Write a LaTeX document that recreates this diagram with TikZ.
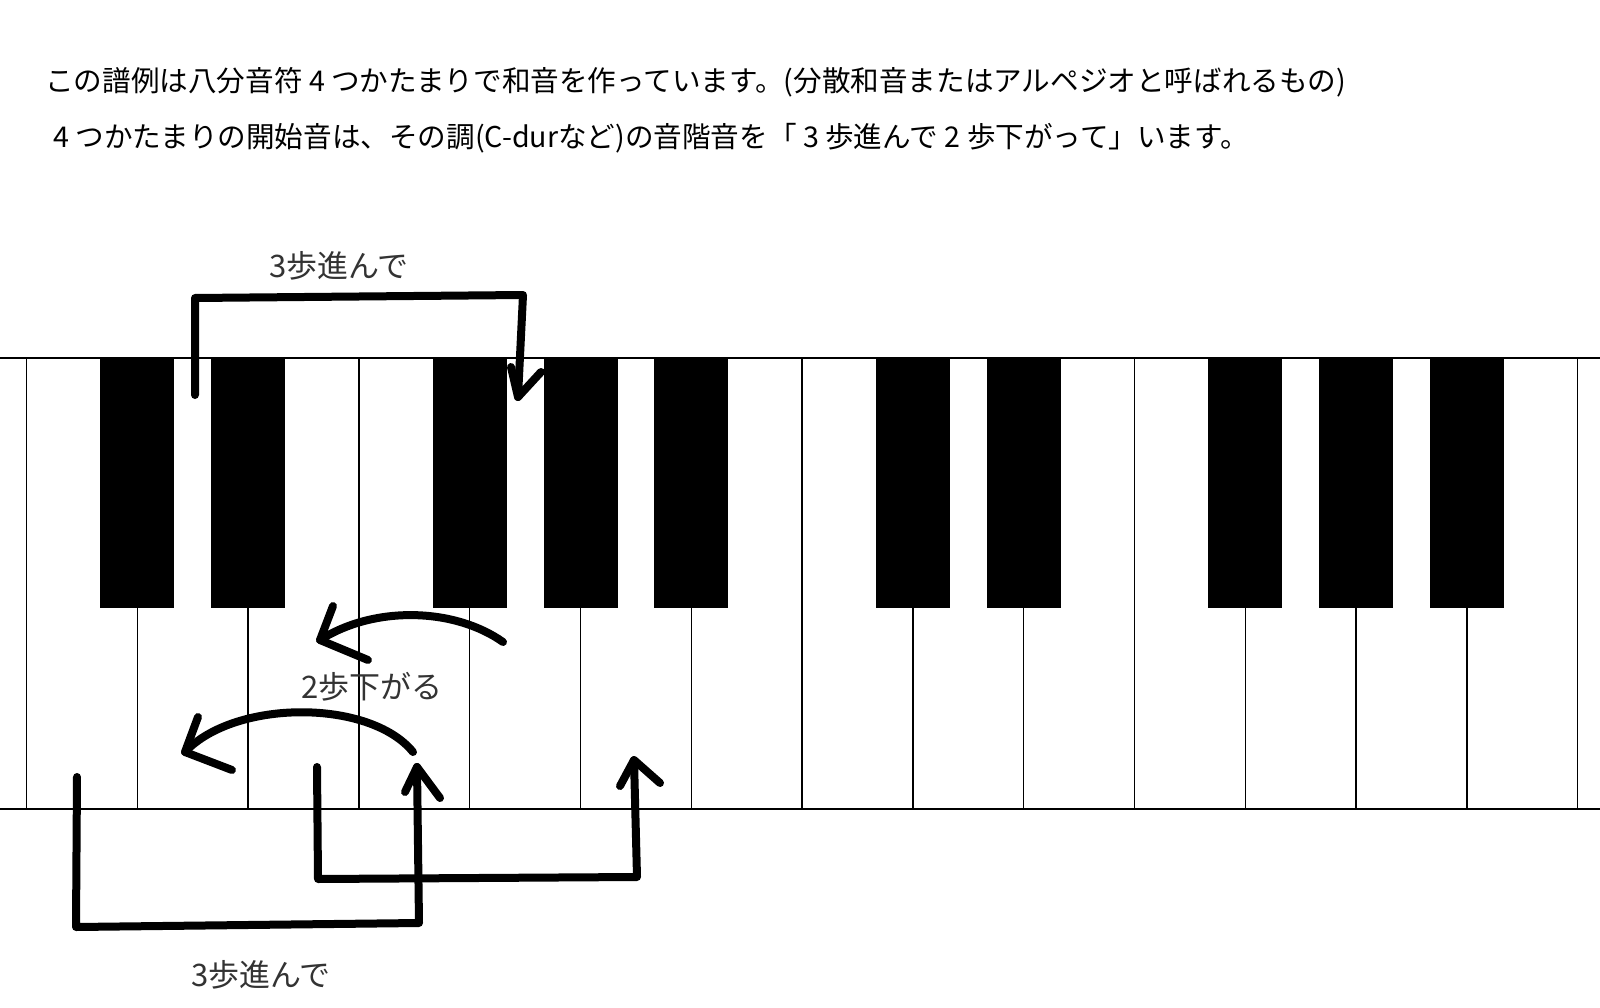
\documentclass[tikz,border=0pt]{standalone}
\usepackage{fontspec}
\setmainfont{Noto Sans CJK JP}
\begin{document}
\begin{tikzpicture}[x=1pt,y=-1pt,
  keyline/.style={line width=1.5pt,black},
  blackkey/.style={fill=black,draw=none},
  stroke/.style={line width=8pt,line cap=round,line join=round,black},
  txt/.style={inner sep=0pt,anchor=west,font=\fontsize{28.6}{34}\selectfont},
  lbl/.style={inner sep=0pt,font=\fontsize{31}{36}\selectfont,text=black!80}]
\useasboundingbox (0,0) rectangle (1600,1008);
\fill[white] (0,0) rectangle (1600,1008);
% header text
\node[txt] (line1) at (45,82) {この譜例は八分音符 4 つかたまりで和音を作っています。(分散和音またはアルペジオと呼ばれるもの)};
\node[txt] (line2) at (53,138) {4 つかたまりの開始音は、その調(C-durなど)の音階音を「 3 歩進んで 2 歩下がって」います。};
% keyboard
\draw[keyline] (0,358) -- (1600,358);
\draw[keyline] (0,809) -- (1600,809);
\foreach \k in {0,...,14} \draw[keyline] ({26.5+110.8*\k},358) -- ({26.5+110.8*\k},809);
\foreach \k in {1,2,4,5,6,8,9,11,12,13} \fill[blackkey] ({26.5+110.8*\k-37},358) rectangle ({26.5+110.8*\k+37},608);
% labels
\node[lbl] (up3) at (339,266) {3歩進んで};
\node[lbl] (down2) at (372,687) {2歩下がる};
\node[lbl] (low3) at (261,975) {3歩進んで};
% top bracket
\coordinate (ta) at (195,395);
\coordinate (tb) at (195,298);
\coordinate (tc) at (523,295);
\coordinate (tt) at (518,397);
\coordinate (tl) at (511,367);
\coordinate (tr) at (541,372);
\draw[stroke] (ta) -- (tb) -- (tc) -- (tt);
\draw[stroke] (tl) -- (tt) -- (tr);
% upper arc arrow
\coordinate (ua) at (503,642);
\coordinate (ut) at (320,640);
\coordinate (ul) at (333,606);
\coordinate (ur) at (368,660);
\draw[stroke] (ua) .. controls (455,608) and (375,605) .. (ut);
\draw[stroke] (ul) -- (ut) -- (ur);
% lower arc arrow
\coordinate (la) at (413,752);
\coordinate (lt) at (185,752);
\coordinate (ll) at (198,717);
\coordinate (lr) at (232,770);
\draw[stroke] (la) .. controls (370,699) and (235,699) .. (lt);
\draw[stroke] (ll) -- (lt) -- (lr);
% lower bracket 1
\coordinate (ba) at (77,777);
\coordinate (bb) at (76,927);
\coordinate (bc) at (419,923);
\coordinate (bt) at (417,767);
\coordinate (bl) at (405,792);
\coordinate (br) at (440,798);
\draw[stroke] (ba) -- (bb) -- (bc) -- (bt);
\draw[stroke] (bl) -- (bt) -- (br);
% lower bracket 2
\coordinate (ca) at (317,767);
\coordinate (cb) at (318,879);
\coordinate (cc) at (637,877);
\coordinate (ct) at (634,760);
\coordinate (cl) at (620,786);
\coordinate (cr) at (660,783);
\draw[stroke] (ca) -- (cb) -- (cc) -- (ct);
\draw[stroke] (cl) -- (ct) -- (cr);
\end{tikzpicture}
\end{document}
